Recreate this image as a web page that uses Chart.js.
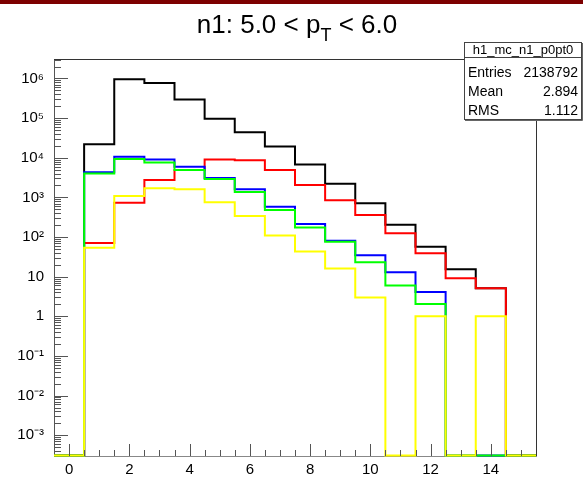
<!DOCTYPE html>
<html><head><meta charset="utf-8">
<script src="https://cdn.jsdelivr.net/npm/chart.js@4.4.1/dist/chart.umd.min.js"></script>
<style>html,body{margin:0;padding:0;background:#fff;}#wrap{width:583px;height:480px;position:relative;}</style>
</head><body><div id="wrap"><canvas id="c" width="583" height="480"></canvas></div>
<script>
// ---- data (bin centres 0..15, unit-width bins) ----
const binCenters = [0,1,2,3,4,5,6,7,8,9,10,11,12,13,14,15];
const blackVals  = [0, 2.2e4, 9.6e5, 7.7e5, 2.95e5, 9.6e4, 4.4e4, 1.93e4, 6.8e3, 2.2e3, 710, 205, 57, 15.5, 5.1, 0];
const redVals    = [0, 71, 735, 2750, 4900, 9100, 8700, 4900, 2050, 850, 360, 125, 39, 9.2, 5.1, 0];
const blueVals   = [0, 4300, 10600, 9100, 5900, 3100, 1600, 585, 214, 81, 35, 13, 4.1, 0, 0, 0];
const greenVals  = [0, 4000, 9300, 7600, 4900, 2900, 1370, 480, 173, 76, 23, 6.0, 2.05, 0, 0, 0];
const yellowVals = [0, 54, 1090, 1700, 1600, 755, 340, 109, 43, 16, 3.0, 0, 1, 0, 1, 0];
const xTickLabels = ['0','2','4','6','8','10','12','14'];
const yDecades = [-3,-2,-1,0,1,2,3,4,5,6];
const yTickLabels = ['10\u207B\u00B3','10\u207B\u00B2','10\u207B\u00B9','1','10','10\u00B2','10\u00B3','10\u2074','10\u2075','10\u2076'];
const titleMain = 'n1: 5.0 < p', titleSub = 'T', titleEnd = ' < 6.0';
const statsName = 'h1_mc_n1_p0pt0';
const statsRows = [['Entries','2138792'],['Mean','2.894'],['RMS','1.112']];

const Y_MIN = 3.1e-4, Y_MAX = 3.1e6, X_MIN = -0.5, X_MAX = 15.5;

function toSteps(vals){
  // each bin's left edge carries the bin value; closing point at the last right edge
  const pts = vals.map((v,i)=>({x: binCenters[i]-0.5, y: v>0 ? v : Y_MIN}));
  pts.push({x: binCenters[binCenters.length-1]+0.5, y: Y_MIN});
  return pts;
}
// drawOrder: lower is drawn first (underneath)
function ds(vals, color, drawOrder){
  return {data: toSteps(vals), borderColor: color, borderWidth: 2, stepped: 'before',
          pointRadius: 0, fill: false, tension: 0, clip: 1, order: 10 - drawOrder};
}

const FONT = "'Liberation Sans', Arial, Helvetica, sans-serif";

const decor = {
  id: 'decor',
  beforeDraw(chart){
    const ctx = chart.ctx;
    ctx.save();
    ctx.fillStyle = '#fff'; ctx.fillRect(0,0,583,480);
    ctx.fillStyle = '#7d0000'; ctx.fillRect(0,0,583,4);
    ctx.restore();
  },
  afterDraw(chart){
    const ctx = chart.ctx, a = chart.chartArea;
    const xs = chart.scales.x, ys = chart.scales.y;
    ctx.save();
    // ticks inside frame
    ctx.strokeStyle = '#555'; ctx.lineWidth = 1;
    ctx.beginPath();
    ys.ticks.forEach(t=>{
      const y = Math.round(ys.getPixelForValue(t.value))+0.5;
      const len = t.major ? 14 : 7;
      ctx.moveTo(a.left, y); ctx.lineTo(a.left+len, y);
    });
    xs.ticks.forEach(t=>{
      const x = Math.round(xs.getPixelForValue(t.value))+0.5;
      const len = t.major ? 12 : 6;
      ctx.moveTo(x, a.bottom); ctx.lineTo(x, a.bottom-len);
    });
    ctx.stroke();
    // frame top and right
    ctx.strokeStyle = '#333';
    ctx.beginPath();
    ctx.moveTo(a.left, a.top+0.5); ctx.lineTo(a.right+0.5, a.top+0.5);
    ctx.moveTo(a.right+0.5, a.top); ctx.lineTo(a.right+0.5, a.bottom);
    ctx.stroke();
    // title
    ctx.fillStyle = '#000';
    ctx.textBaseline = 'alphabetic';
    const fs = 26, fsSub = 18;
    ctx.font = fs+'px '+FONT;
    const w1 = ctx.measureText(titleMain).width, w3 = ctx.measureText(titleEnd).width;
    ctx.font = fsSub+'px '+FONT;
    const w2 = ctx.measureText(titleSub).width;
    let x0 = 297 - (w1+w2+w3)/2;
    const base = 33;
    ctx.font = fs+'px '+FONT; ctx.textAlign='left';
    ctx.fillText(titleMain, x0, base);
    ctx.font = fsSub+'px '+FONT;
    ctx.fillText(titleSub, x0+w1, base+8);
    ctx.font = fs+'px '+FONT;
    ctx.fillText(titleEnd, x0+w1+w2, base);
    // stats box
    const bx = 464, by = 42, bw = 117, bh = 77, hh = 15;
    ctx.fillStyle = '#fff'; ctx.fillRect(bx, by, bw, bh);
    ctx.strokeStyle = '#444'; ctx.lineWidth = 1;
    ctx.strokeRect(bx+0.5, by+0.5, bw, bh);
    ctx.beginPath(); ctx.moveTo(bx, by+hh+0.5); ctx.lineTo(bx+bw, by+hh+0.5); ctx.stroke();
    ctx.strokeStyle = '#666';
    ctx.beginPath(); ctx.moveTo(bx+1, by+bh+1.5); ctx.lineTo(bx+bw+1.5, by+bh+1.5); ctx.lineTo(bx+bw+1.5, by+1); ctx.stroke();
    ctx.fillStyle = '#000';
    ctx.font = '13px '+FONT; ctx.textAlign = 'center';
    ctx.fillText(statsName, bx+bw/2+0.5, by+12);
    ctx.font = '14px '+FONT;
    const rowBase = [77, 96, 115];
    statsRows.forEach((r,i)=>{
      ctx.textAlign='left'; ctx.fillText(r[0], bx+4, rowBase[i]);
      ctx.textAlign='right'; ctx.fillText(r[1], bx+bw-3, rowBase[i]);
    });
    ctx.restore();
  }
};

new Chart(document.getElementById('c'), {
  type: 'line',
  data: { datasets: [ ds(blackVals,'#000000',0), ds(redVals,'#ff0000',1), ds(blueVals,'#0000ff',2), ds(greenVals,'#00ff00',3), ds(yellowVals,'#ffff00',4) ] },
  options: {
    responsive: false, animation: false, devicePixelRatio: 1,
    layout: { padding: { top: 59, right: 47, left: 0, bottom: 0 } },
    plugins: { legend: {display:false}, tooltip: {enabled:false}, title: {display:false} },
    scales: {
      x: {
        type: 'linear', min: X_MIN, max: X_MAX,
        afterBuildTicks(s){ const t=[]; for(let v=0; v<=15.0001; v+=0.5){ t.push({value:v, major: Math.abs(v%2)<1e-9}); } s.ticks=t; },
        afterFit(s){ s.height = 24; },
        grid: { display: false, drawTicks: false },
        border: { display: true, color: '#888', width: 1 },
        ticks: { autoSkip: false, maxRotation: 0, padding: 5, color: '#000', font: { family: FONT, size: 15 },
          callback(v){ const i = xTickLabels.indexOf(String(v)); return i>=0 && v%2===0 ? xTickLabels[i] : ''; } }
      },
      y: {
        type: 'logarithmic', min: Y_MIN, max: Y_MAX,
        afterBuildTicks(s){ const t=[]; for(let k=-4;k<=6;k++){ for(let m=1;m<=9;m++){ const v=m*Math.pow(10,k); if(v>=Y_MIN && v<=Y_MAX) t.push({value:v, major: m===1}); } } s.ticks=t; },
        afterFit(s){ s.width = 54; },
        grid: { display: false, drawTicks: false },
        border: { display: true, color: '#555', width: 1 },
        ticks: { autoSkip: false, padding: 10, color: '#000', font: { family: FONT, size: 15 },
          callback(v){ const e = Math.log10(v); const r = Math.round(e); if (Math.abs(e-r)>1e-6) return ''; const i = yDecades.indexOf(r); return i>=0 ? yTickLabels[i] : ''; } }
      }
    }
  },
  plugins: [decor]
});
</script></body></html>
